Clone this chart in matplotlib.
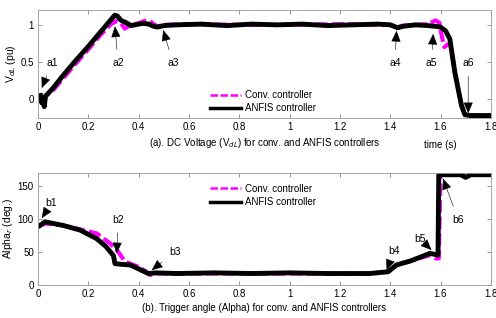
import matplotlib.pyplot as plt

plt.rcParams['font.family'] = ['Liberation Sans', 'DejaVu Sans']
plt.rcParams['font.size'] = 7

# DC voltage V_dL (pu)
t_v_anfis = [0.010, 0.015, 0.020, 0.025, 0.030, 0.060, 0.100, 0.150, 0.200, 0.250,
             0.290, 0.305, 0.315, 0.330, 0.350, 0.370, 0.400, 0.420, 0.440, 0.460,
             0.475, 0.500, 0.550, 0.650, 0.750, 0.850, 0.950, 1.050, 1.150, 1.250,
             1.350, 1.400, 1.430, 1.450, 1.500, 1.550, 1.580, 1.600, 1.620, 1.637,
             1.657, 1.683, 1.697, 1.720, 1.800]
v_anfis = [0.05, -0.05, 0.02, -0.10, 0.04, 0.15, 0.32, 0.52, 0.71, 0.91,
           1.07, 1.13, 1.12, 1.06, 1.03, 0.99, 1.01, 1.02, 1.01, 0.98,
           0.97, 0.99, 1.00, 1.01, 0.99, 1.01, 1.00, 1.01, 0.99, 1.00,
           1.01, 1.00, 0.96, 0.98, 1.00, 0.99, 0.98, 0.97, 0.92, 0.81,
           0.36, -0.08, -0.21, -0.22, -0.22]

t_v_conv = [0.010, 0.020, 0.030, 0.060, 0.100, 0.150, 0.200, 0.250, 0.290, 0.310,
            0.330, 0.345, 0.370, 0.400, 0.420, 0.440, 0.460, 0.475, 0.500, 0.600,
            0.800, 1.000, 1.200, 1.400, 1.430, 1.450, 1.500, 1.550, 1.580, 1.595,
            1.605, 1.615, 1.630, 1.640, 1.657, 1.683, 1.697, 1.720, 1.800]
v_conv = [0.03, 0.00, 0.05, 0.12, 0.28, 0.48, 0.67, 0.87, 1.01, 1.05,
          1.02, 0.95, 1.00, 1.02, 1.05, 1.06, 1.01, 0.98, 1.00, 1.01,
          1.00, 1.00, 1.01, 1.00, 0.97, 0.99, 1.00, 1.01, 1.06, 1.03,
          0.85, 0.70, 0.74, 0.72, 0.36, -0.08, -0.21, -0.22, -0.22]

# Trigger angle Alpha_r (deg.)
t_a_anfis = [0.008, 0.028, 0.100, 0.167, 0.233, 0.270, 0.293, 0.300, 0.306, 0.330,
             0.366, 0.400, 0.438, 0.470, 0.550, 0.700, 0.850, 1.000, 1.150, 1.319,
             1.392, 1.425, 1.480, 1.558, 1.590, 1.593, 1.600, 1.680, 1.700, 1.720,
             1.800]
a_anfis = [90, 95.5, 90, 83, 70, 58, 47.5, 44, 32, 31,
           30, 24, 17, 18, 17, 18, 17, 18, 17, 17,
           19.7, 30, 36, 47.6, 45, 167, 167, 167, 163, 167,
           167]

t_a_conv = [0.008, 0.030, 0.100, 0.233, 0.286, 0.319, 0.346, 0.366, 0.400, 0.430,
            0.445, 0.470, 0.550, 0.800, 1.000, 1.319, 1.392, 1.425, 1.480, 1.558,
            1.580, 1.593, 1.600, 1.800]
a_conv = [90, 93, 90, 78, 63, 50, 35, 32, 27, 20,
          14.7, 17, 17, 17, 17, 17, 19.7, 30, 36, 45,
          40, 40, 167, 167]

labels_top = ['a1', 'a2', 'a3', 'a4', 'a5', 'a6']
text_top = [(0.056, 0.49), (0.318, 0.49), (0.536, 0.49), (1.419, 0.49), (1.564, 0.49), (1.71, 0.49)]
tip_top = [(0.015, 0.15), (0.306, 0.98), (0.498, 0.93), (1.425, 0.92), (1.571, 0.88), (1.71, -0.19)]

labels_bot = ['b1', 'b2', 'b3', 'b4', 'b5', 'b6']
text_bot = [(0.054, 124), (0.319, 99), (0.544, 50), (1.415, 51.5), (1.518, 70), (1.67, 99)]
tip_bot = [(0.015, 101), (0.313, 47.6), (0.452, 22), (1.386, 22), (1.564, 52.6), (1.61, 161)]


def style_axes(ax):
    for s in ax.spines.values():
        s.set_color('#999999')
        s.set_linewidth(0.6)
    ax.tick_params(direction='in', top=True, right=True, length=3, width=0.6,
                   color='#888888', labelsize=7, pad=3)
    ax.set_xlim(0, 1.8)
    ax.set_xticks([0, 0.2, 0.4, 0.6, 0.8, 1, 1.2, 1.4, 1.6, 1.8])
    ax.set_xticklabels(['0', '0.2', '0.4', '0.6', '0.8', '1', '1.2', '1.4', '1.6', '1.8'])


def annotate(ax, labels, texts, tips):
    for lab, xy_t, xy in zip(labels, texts, tips):
        ax.annotate(lab, xy=xy, xytext=xy_t, ha='center', va='center', fontsize=7.5,
                    arrowprops=dict(arrowstyle='-|>,head_length=0.7,head_width=0.3',
                                    color='black', lw=0.4, mutation_scale=10,
                                    shrinkA=4, shrinkB=0),
                    zorder=5)


def thin_legend(leg, widths):
    for h, w in zip(leg.get_lines(), widths):
        h.set_linewidth(w)


fig = plt.figure(figsize=(4.96, 3.18), dpi=100)
ax1 = fig.add_axes([0.0766, 0.6296, 0.913, 0.339])
ax2 = fig.add_axes([0.0766, 0.1047, 0.913, 0.352])

ax1.plot(t_v_conv, v_conv, color='magenta', lw=3.0, ls=(0, (3, 1)), label='Conv. controller')
ax1.plot(t_v_anfis, v_anfis, color='black', lw=3.5, label='ANFIS controller')
style_axes(ax1)
ax1.set_ylim(-0.25, 1.2)
ax1.set_yticks([0, 0.5, 1])
ax1.set_yticklabels(['0', '0.5', '1'])
ax1.set_ylabel('V$_{dL}$ (pu)', fontsize=7.5, labelpad=2)
ax1.set_xlabel('(a). DC Voltage (V$_{dL}$) for conv. and ANFIS controllers', fontsize=7, labelpad=3)
ax1.text(1.6, -0.61, 'time (s)', ha='center', va='center', fontsize=7)
leg1 = ax1.legend(loc='lower left', bbox_to_anchor=(0.36, -0.04), frameon=False, fontsize=7,
                  handlelength=3.2, handletextpad=0.4, labelspacing=0.35)
thin_legend(leg1, [1.8, 2.5])
annotate(ax1, labels_top, text_top, tip_top)

ax2.plot(t_a_conv, a_conv, color='magenta', lw=3.0, ls=(0, (3, 1)), label='Conv. controller')
ax2.plot(t_a_anfis, a_anfis, color='black', lw=3.5, label='ANFIS controller')
style_axes(ax2)
ax2.set_ylim(0, 170)
ax2.set_yticks([0, 50, 100, 150])
ax2.set_ylabel('Alpha$_r$ (deg.)', fontsize=7.5, labelpad=2)
ax2.set_xlabel('(b). Trigger angle (Alpha) for conv. and ANFIS controllers', fontsize=7, labelpad=3)
leg2 = ax2.legend(loc='upper left', bbox_to_anchor=(0.36, 0.98), frameon=False, fontsize=7,
                  handlelength=3.2, handletextpad=0.4, labelspacing=0.35)
thin_legend(leg2, [1.8, 2.5])
annotate(ax2, labels_bot, text_bot, tip_bot)

fig.savefig('out.png', dpi=100)
